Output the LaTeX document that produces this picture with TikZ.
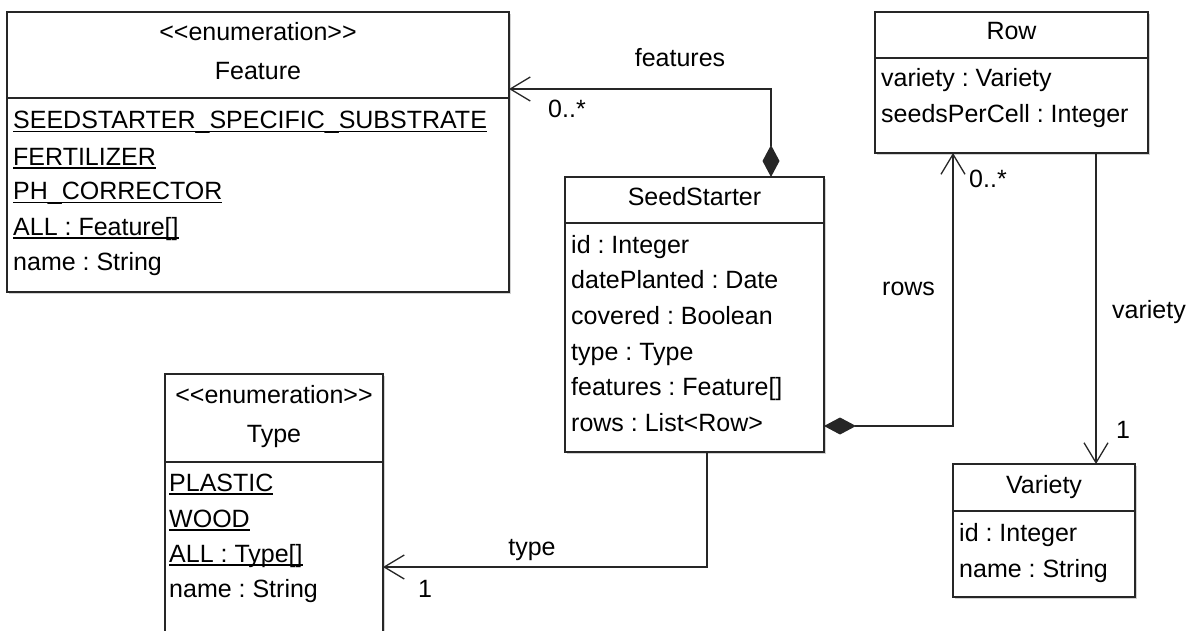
\documentclass[tikz,border=0pt]{standalone}
\usepackage{fontspec}
\setmainfont{Liberation Sans}[Ligatures=TeXOff]
\usetikzlibrary{arrows.meta,shadows}
\newcommand\myul[1]{\setbox0\hbox{#1}\rlap{\rule[-3.5pt]{\wd0}{1.1pt}}\box0}
\begin{document}
\frenchspacing
\begin{tikzpicture}[x=1pt,y=-1pt,
  umlbox/.style={draw=black!85, line width=1.3pt, fill=white, inner sep=0pt, outer sep=0pt, anchor=north west,
     drop shadow={shadow xshift=2pt, shadow yshift=-2pt, fill=black!35, opacity=0.5}},
  txt/.style={inner sep=0pt, anchor=base west, font=\fontsize{25}{30}\selectfont},
  ctxt/.style={inner sep=0pt, anchor=base, font=\fontsize{25}{30}\selectfont},
  divider/.style={line width=1.3pt, draw=black!85},
  assoc/.style={line width=1.3pt, draw=black!85},
  comp/.style={assoc, {Diamond[length=32pt,width=17pt]}-{Straight Barb[length=20pt,width=24pt]}},
  nav/.style={assoc, -{Straight Barb[length=20pt,width=24pt]}}
]
\clip (0,0) rectangle (1190,631);
\fill[white] (0,0) rectangle (1190,631);

% Feature
\node[umlbox, minimum width=502pt, minimum height=280pt] (feature) at (7,12) {};
\draw[divider] (7,98) -- (509,98);
\node[ctxt] (f0) at (258,41) {<<enumeration>>};
\node[ctxt] (f1) at (258,80) {Feature};
\node[txt] (f2) at (13,129) {\myul{SEEDSTARTER\_SPECIFIC\_SUBSTRATE}};
\node[txt] (f3) at (13,165) {\myul{FERTILIZER}};
\node[txt] (f4) at (13,200) {\myul{PH\_CORRECTOR}};
\node[txt] (f5) at (13,235) {\myul{ALL : Feature[]}};
\node[txt] (f6) at (13,270) {name : String};

% SeedStarter
\node[umlbox, minimum width=259pt, minimum height=275pt] (seed) at (565,177) {};
\draw[divider] (565,223) -- (824,223);
\node[ctxt] (s0) at (694.5,205) {SeedStarter};
\node[txt] (s1) at (571,253) {id : Integer};
\node[txt] (s2) at (571,288) {datePlanted : Date};
\node[txt] (s3) at (571,324) {covered : Boolean};
\node[txt] (s4) at (571,360) {type : Type};
\node[txt] (s5) at (571,395) {features : Feature[]};
\node[txt] (s6) at (571,431) {rows : List<Row>};

% Row
\node[umlbox, minimum width=273pt, minimum height=141pt] (row) at (875,12) {};
\draw[divider] (875,58) -- (1148,58);
\node[ctxt] (r0) at (1011.5,40) {Row};
\node[txt] (r1) at (881,87) {variety : Variety};
\node[txt] (r2) at (881,123) {seedsPerCell : Integer};

% Variety
\node[umlbox, minimum width=182pt, minimum height=133pt] (variety) at (953,464) {};
\draw[divider] (953,511) -- (1135,511);
\node[ctxt] (v0) at (1044,493) {Variety};
\node[txt] (v1) at (959,541) {id : Integer};
\node[txt] (v2) at (959,577) {name : String};

% Type
\node[umlbox, minimum width=218pt, minimum height=300pt] (typebox) at (165,374) {};
\draw[divider] (165,462) -- (383,462);
\node[ctxt] (t0) at (274,403) {<<enumeration>>};
\node[ctxt] (t1) at (274,442) {Type};
\node[txt] (t2) at (169,491) {\myul{PLASTIC}};
\node[txt] (t3) at (169,527) {\myul{WOOD}};
\node[txt] (t4) at (169,562) {\myul{ALL : Type[]}};
\node[txt] (t5) at (169,597) {name : String};

% connectors
\draw[comp] ([xshift=76.5pt]seed.north) |- ([yshift=63pt]feature.east);
\draw[comp] ([yshift=-111.5pt]seed.east) -| ([xshift=-58.5pt]row.south);
\draw[nav] ([xshift=84.5pt]row.south) -- ([xshift=52pt]variety.north);
\draw[nav] ([xshift=12.5pt]seed.south) |- ([yshift=-43pt]typebox.east);

% labels
\node[ctxt] (lf) at (680,67) {features};
\node[txt] (mf) at (548,118) {0..*};
\node[txt] (mr) at (969,187) {0..*};
\node[txt] (lr) at (882,295) {rows};
\node[txt] (lv) at (1112,318) {variety};
\node[txt] (mv) at (1116,438) {1};
\node[ctxt] (lt) at (532,555) {type};
\node[txt] (mt) at (418,597) {1};
\end{tikzpicture}
\end{document}
